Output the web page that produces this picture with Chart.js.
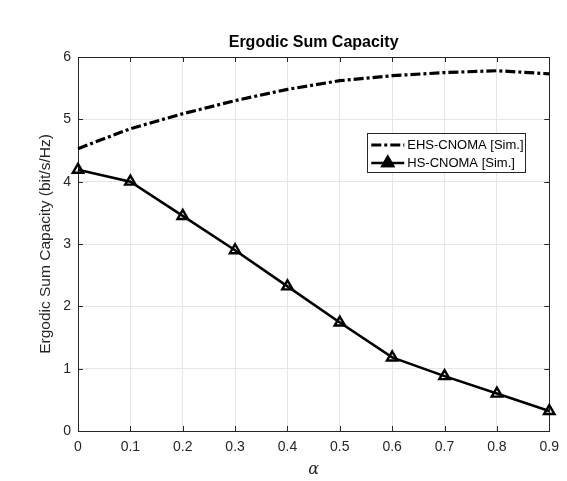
<!DOCTYPE html>
<html><head><meta charset="utf-8">
<script src="https://cdn.jsdelivr.net/npm/chart.js@4/dist/chart.umd.min.js"></script>
<style>html,body{margin:0;padding:0;background:#fff}#c{display:block}</style>
</head><body>
<canvas id="c" width="567" height="481"></canvas>
<script>
const alphaValues = [0, 0.1, 0.2, 0.3, 0.4, 0.5, 0.6, 0.7, 0.8, 0.9];
const ehsSim = [4.53, 4.85, 5.09, 5.30, 5.48, 5.62, 5.70, 5.75, 5.78, 5.73];
const hsSim = [4.19, 4.00, 3.45, 2.90, 2.32, 1.74, 1.18, 0.88, 0.60, 0.32];
const xTicks = [0, 0.1, 0.2, 0.3, 0.4, 0.5, 0.6, 0.7, 0.8, 0.9];
const yTicks = [0, 1, 2, 3, 4, 5, 6];
const seriesLabels = ['EHS-CNOMA [Sim.]', 'HS-CNOMA [Sim.]'];
const chartTitle = 'Ergodic Sum Capacity';
const yTitle = 'Ergodic Sum Capacity (bit/s/Hz)';
const xTitle = 'α';

const FONT = '"Liberation Sans", Arial, Helvetica, sans-serif';
const AX = '#262626';

const toPts = (ys) => alphaValues.map((x, i) => ({x: x, y: ys[i]}));

const boxPlugin = {
  id: 'box',
  beforeDatasetsDraw(chart) {
    const {ctx, chartArea: a, scales} = chart;
    ctx.save();
    ctx.strokeStyle = AX;
    ctx.lineWidth = 1;
    ctx.beginPath();
    const L = 5;
    scales.x.ticks.forEach(t => {
      const px = Math.round(scales.x.getPixelForValue(t.value)) + 0.5;
      ctx.moveTo(px, a.bottom); ctx.lineTo(px, a.bottom - L);
      ctx.moveTo(px, a.top); ctx.lineTo(px, a.top + L);
    });
    scales.y.ticks.forEach(t => {
      const py = Math.round(scales.y.getPixelForValue(t.value)) + 0.5;
      ctx.moveTo(a.left, py); ctx.lineTo(a.left + L, py);
      ctx.moveTo(a.right, py); ctx.lineTo(a.right - L, py);
    });
    ctx.stroke();
    ctx.strokeRect(Math.round(a.left) + 0.5, Math.round(a.top) + 0.5,
                   Math.round(a.right - a.left), Math.round(a.bottom - a.top));
    ctx.restore();
  }
};

const legendPlugin = {
  id: 'boxLegend',
  afterDraw(chart) {
    const {ctx, chartArea: a} = chart;
    const bx = a.right - 182, by = a.top + 76, bw = 158, bh = 39;
    ctx.save();
    ctx.fillStyle = '#fff';
    ctx.fillRect(bx, by, bw, bh);
    ctx.strokeStyle = AX;
    ctx.lineWidth = 1;
    ctx.strokeRect(Math.round(bx) + 0.5, Math.round(by) + 0.5, bw, bh);
    ctx.font = '13px ' + FONT;
    ctx.textBaseline = 'middle';
    chart.data.datasets.forEach((ds, i) => {
      const y = by + 12 + i * 18;
      const x0 = bx + 4, x1 = bx + 37;
      ctx.strokeStyle = ds.borderColor;
      ctx.lineWidth = ds.borderWidth;
      ctx.setLineDash(ds.borderDash || []);
      ctx.beginPath(); ctx.moveTo(x0, y); ctx.lineTo(x1, y); ctx.stroke();
      ctx.setLineDash([]);
      if (ds.pointRadius > 0) {
        Chart.helpers.drawPoint(ctx, {
          pointStyle: ds.pointStyle, radius: ds.pointRadius,
          borderWidth: ds.pointBorderWidth, rotation: 0
        }, (x0 + x1) / 2, y);
        ctx.lineWidth = ds.pointBorderWidth;
        ctx.fillStyle = ds.pointBackgroundColor;
        ctx.fill();
        ctx.stroke();
      }
      ctx.fillStyle = '#000';
      ctx.fillText(ds.label, bx + 40, y);
    });
    ctx.restore();
  }
};

new Chart(document.getElementById('c'), {
  type: 'line',
  data: {
    datasets: [
      {
        label: seriesLabels[0], data: toPts(ehsSim),
        borderColor: '#000', borderWidth: 3.2, borderDash: [10, 3, 3, 3],
        pointRadius: 0, fill: false, tension: 0, clip: false
      },
      {
        label: seriesLabels[1], data: toPts(hsSim),
        borderColor: '#000', borderWidth: 2.6,
        pointStyle: 'triangle', pointRadius: 6, pointBorderWidth: 2.4,
        pointBorderColor: '#000', pointBackgroundColor: 'rgba(0,0,0,0)',
        fill: false, tension: 0, clip: false
      }
    ]
  },
  options: {
    responsive: false, animation: false,
    layout: {padding: {left: 0, right: 16, top: 0, bottom: 0}},
    plugins: {
      legend: {display: false},
      tooltip: {enabled: false},
      title: {
        display: true, text: chartTitle, fullSize: false, color: '#000',
        font: {family: FONT, size: 16, weight: 'bold'},
        padding: {top: 33.4, bottom: 4.4}
      }
    },
    scales: {
      x: {
        type: 'linear', min: 0, max: 0.9,
        afterBuildTicks: (s) => { s.ticks = xTicks.map(v => ({value: v})); },
        afterFit: (s) => { s.height = 50; },
        ticks: {
          color: AX, font: {family: FONT, size: 14}, padding: 8,
          autoSkip: false, maxRotation: 0,
          callback: (v) => v === 0 ? '0' : v.toFixed(1)
        },
        grid: {color: '#e6e6e6', lineWidth: 1, drawTicks: false},
        border: {display: false},
        title: {display: true, text: xTitle, color: AX,
          font: {family: '"DejaVu Serif", "Liberation Serif", serif', size: 16, style: 'italic'},
          padding: {top: 0, bottom: 2}}
      },
      y: {
        min: 0, max: 6,
        afterBuildTicks: (s) => { s.ticks = yTicks.map(v => ({value: v})); },
        afterFit: (s) => { s.width = 78; },
        ticks: {color: AX, font: {family: FONT, size: 14}, padding: 7},
        grid: {color: '#e6e6e6', lineWidth: 1, drawTicks: false},
        border: {display: false},
        title: {display: true, text: yTitle, color: AX,
          font: {family: FONT, size: 15.5}, padding: {top: 36, bottom: 0}}
      }
    }
  },
  plugins: [boxPlugin, legendPlugin]
});
</script>
</body></html>
